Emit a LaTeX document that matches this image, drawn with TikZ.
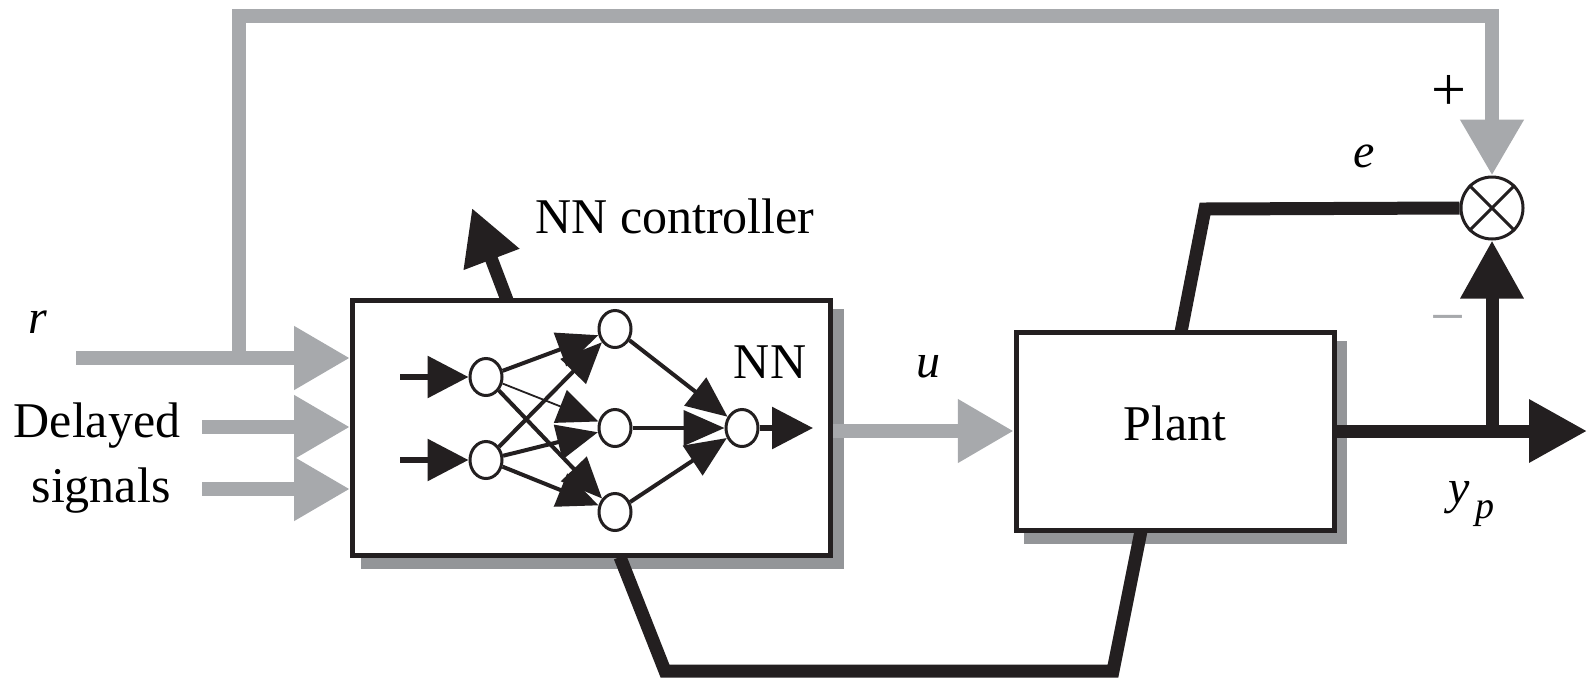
\documentclass[tikz,border=0pt]{standalone}
\usepackage{fontspec}
\setmainfont{Liberation Serif}
\usetikzlibrary{arrows.meta,shapes.geometric,calc}
\definecolor{ink}{HTML}{231F20}
\definecolor{sig}{HTML}{A7A9AC}
\definecolor{boxshadow}{HTML}{939598}
\pgfdeclarelayer{shadowlayer}
\pgfsetlayers{shadowlayer,main}
\begin{document}
\begin{tikzpicture}[x=1pt,y=-1pt,
  every node/.style={font=\fontsize{50}{60}\selectfont, inner sep=0pt},
  lbl/.style={anchor=base},
  ilbl/.style={anchor=base, font=\fontsize{48}{56}\selectfont\itshape},
  blk/.style={draw=ink, line width=5pt, fill=white, rectangle},
  neuron/.style={ellipse, draw=ink, line width=3pt, fill=white, minimum width=32pt, minimum height=37pt},
  sumnode/.style={circle, draw=ink, line width=3pt, fill=white, minimum size=62pt},
  gline/.style={draw=sig, line width=14pt, line join=miter},
  garrow/.style={gline, -{Triangle[length=56pt,width=60pt]}},
  bline/.style={draw=ink, line width=13pt, line join=miter},
  barrow/.style={bline, -{Triangle[length=58pt,width=60pt]}},
  nedge/.style={draw=ink, line width=4pt, -{Triangle[length=41pt,width=35pt]}},
  nthin/.style={nedge, line width=1.8pt},
  nio/.style={draw=ink, line width=6pt, -{Triangle[length=41pt,width=41pt]}},
]
\useasboundingbox (0,0) rectangle (1587,678);

% blocks
\node[blk, minimum width=478pt, minimum height=255pt] (nn) at (591.5,428) {};
\node[blk, minimum width=318pt, minimum height=198pt] (plant) at (1175.25,431) {};
\node[lbl] (plantlbl) at (1175,440) {Plant};
\node[sumnode] (sum) at (1492,208) {};
\draw[ink, line width=3pt] (sum.north west) -- (sum.south east) (sum.north east) -- (sum.south west);

\begin{pgfonlayer}{shadowlayer}
\fill[boxshadow] ($(nn.south west)+(11,11)$) rectangle ($(nn.north east)+(11,11)$);
\fill[boxshadow] ($(plant.south west)+(10,11)$) rectangle ($(plant.north east)+(10,11)$);
\end{pgfonlayer}

% neurons
\node[neuron] (i1) at (486,377) {};
\node[neuron] (i2) at (486,460) {};
\node[neuron] (h1) at (615,329) {};
\node[neuron] (h2) at (615,428) {};
\node[neuron] (h3) at (615,512) {};
\node[neuron] (o) at (742,428) {};
\node[lbl] (nnlbl) at (770,378) {NN};

\coordinate (x1) at (400,377);
\coordinate (x2) at (400,460);
\coordinate (nout) at (813,428);
\draw[nio] (x1) -- (i1);
\draw[nio] (x2) -- (i2);
\draw[nedge] (i1) -- (h1);
\draw[nthin] (i1) -- (h2);
\draw[nedge] (i1) -- (h3);
\draw[nedge] (i2) -- (h1);
\draw[nedge] (i2) -- (h2);
\draw[nedge] (i2) -- (h3);
\draw[nedge] (h1) -- (o);
\draw[nedge] (h2) -- (o);
\draw[nedge] (h3) -- (o);
\draw[nio] (o) -- (nout);

% gray signal lines
\coordinate (rin) at (76,358);
\coordinate (rj) at (239,358);
\coordinate (tl) at (239,16);
\coordinate (tr) at (1492,16);
\coordinate (din) at (202,427);
\coordinate (sin) at (202,489);
\draw[garrow] (rin) -- (rin -| nn.west);
\draw[garrow] (rj) -- (tl) -- (tr) -- (sum.north);
\draw[garrow] (din) -- (din -| nn.west);
\draw[garrow] (sin) -- (sin -| nn.west);
\draw[garrow] (nn.east |- plant.west) -- (plant.west);

% black lines
\coordinate (yout) at (1587,431);
\coordinate (fb) at (1492,431);
\coordinate (ec) at (1205,209);
\coordinate (eb) at (1181,332);
\coordinate (cs) at (507,300);
\coordinate (ct) at (472,208);
\coordinate (b1) at (620,557);
\coordinate (b2) at (665,671);
\coordinate (b3) at (1113,671);
\coordinate (b4) at (1141,531);
\draw[barrow] (plant.east) -- (yout);
\draw[barrow] (fb) -- (sum.south);
\draw[bline] (sum.west) -- (ec) -- (eb);
\draw[bline, -{Triangle[length=55pt,width=56pt]}] (cs) -- (ct);
\draw[bline] (b1) -- (b2) -- (b3) -- (b4);

% labels
\node[ilbl] (rl) at (38,333) {r};
\node[lbl] (dl) at (97,437) {Delayed};
\node[lbl] (sl) at (101,502) {signals};
\node[lbl] (ctl) at (675,233) {NN controller};
\node[ilbl] (ul) at (928,377) {u};
\node[ilbl] (el) at (1364,167) {e};
\node[anchor=center, font=\fontsize{62}{70}\selectfont] (plus) at (1449,93) {+};
\node[anchor=center, text=sig, font=\fontsize{62}{70}\selectfont] (minus) at (1448,326) {−};
\node[ilbl, anchor=base west] (ypl) at (1448,503) {y\raisebox{-15pt}{\fontsize{38}{40}\selectfont\,p}};
\end{tikzpicture}
\end{document}
